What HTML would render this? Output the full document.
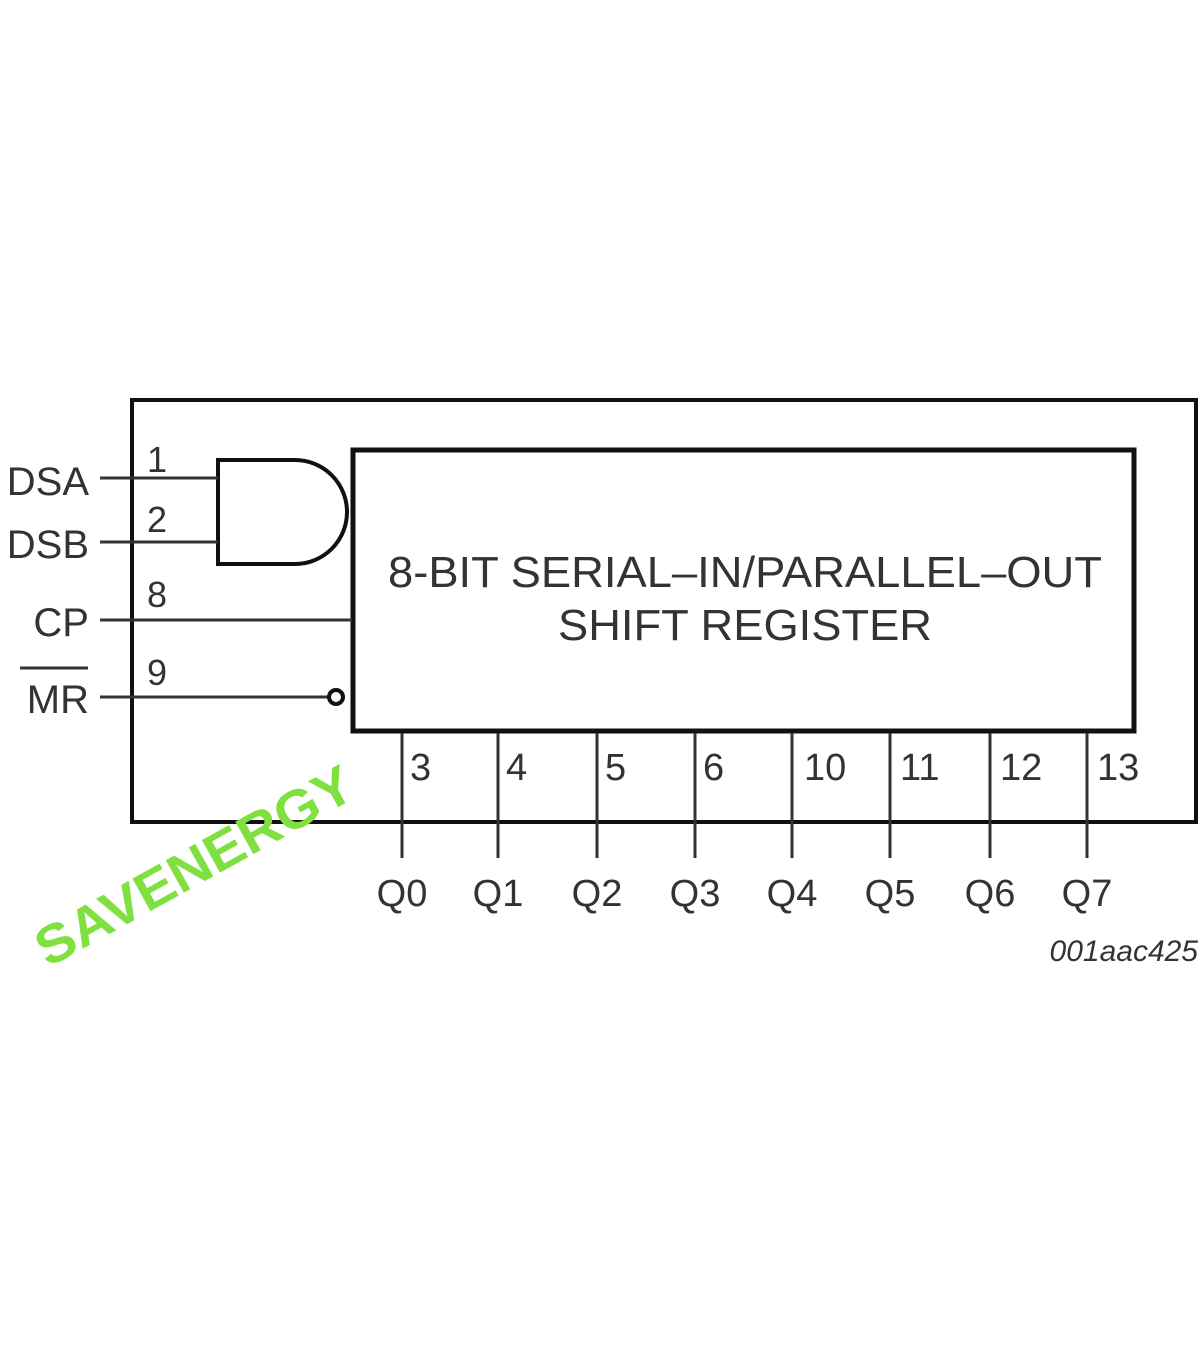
<!DOCTYPE html>
<html><head><meta charset="utf-8"><style>
html,body{margin:0;padding:0;background:#fff;}
svg{display:block;}
text{font-family:"Liberation Sans",sans-serif;fill:#333;}
</style></head><body>
<svg width="1200" height="1372" viewBox="0 0 1200 1372" xmlns="http://www.w3.org/2000/svg">
<rect x="132" y="400" width="1064" height="422" fill="none" stroke="#111" stroke-width="4"/>
<rect x="353" y="450" width="781" height="281" fill="none" stroke="#111" stroke-width="5"/>
<path d="M218 460 H295 A52 52 0 0 1 295 564 H218 Z" fill="none" stroke="#111" stroke-width="4"/>
<g stroke="#333" stroke-width="3">
<line x1="100" y1="478" x2="218" y2="478"/>
<line x1="100" y1="542" x2="218" y2="542"/>
<line x1="100" y1="620" x2="352" y2="620"/>
<line x1="100" y1="697" x2="328" y2="697"/>
</g>
<circle cx="336" cy="697" r="7" fill="#fff" stroke="#111" stroke-width="4"/>
<g font-size="40">
<text x="89" y="495" text-anchor="end">DSA</text>
<text x="89" y="558" text-anchor="end">DSB</text>
<text x="89" y="636" text-anchor="end">CP</text>
<text x="89" y="713" text-anchor="end">MR</text>
</g>
<line x1="20" y1="668" x2="88" y2="668" stroke="#333" stroke-width="3"/>
<g font-size="36">
<text x="147" y="472">1</text>
<text x="147" y="532">2</text>
<text x="147" y="607">8</text>
<text x="147" y="685">9</text>
</g>
<text x="745" y="587" font-size="44" text-anchor="middle" textLength="714" lengthAdjust="spacingAndGlyphs">8-BIT SERIAL–IN/PARALLEL–OUT</text>
<text x="745" y="640" font-size="44" text-anchor="middle" textLength="374" lengthAdjust="spacingAndGlyphs">SHIFT REGISTER</text>
<g stroke="#333" stroke-width="3">
<line x1="402" y1="733" x2="402" y2="858"/>
<line x1="498" y1="733" x2="498" y2="858"/>
<line x1="597" y1="733" x2="597" y2="858"/>
<line x1="695" y1="733" x2="695" y2="858"/>
<line x1="792" y1="733" x2="792" y2="858"/>
<line x1="890" y1="733" x2="890" y2="858"/>
<line x1="990" y1="733" x2="990" y2="858"/>
<line x1="1087" y1="733" x2="1087" y2="858"/>
</g>
<g font-size="38">
<text x="410" y="780">3</text><text x="506" y="780">4</text><text x="605" y="780">5</text><text x="703" y="780">6</text>
<text x="804" y="780">10</text><text x="900" y="780">11</text><text x="1000" y="780">12</text><text x="1097" y="780">13</text>
</g>
<g font-size="38" text-anchor="middle">
<text x="402" y="906">Q0</text><text x="498" y="906">Q1</text><text x="597" y="906">Q2</text><text x="695" y="906">Q3</text>
<text x="792" y="906">Q4</text><text x="890" y="906">Q5</text><text x="990" y="906">Q6</text><text x="1087" y="906">Q7</text>
</g>
<text x="1198" y="961" font-size="30" font-style="italic" text-anchor="end">001aac425</text>
<text x="0" y="0" font-size="54" font-weight="bold" style="fill:#7fe040" textLength="355" lengthAdjust="spacingAndGlyphs" transform="translate(48,968) rotate(-29)">SAVENERGY</text>
</svg>
</body></html>
